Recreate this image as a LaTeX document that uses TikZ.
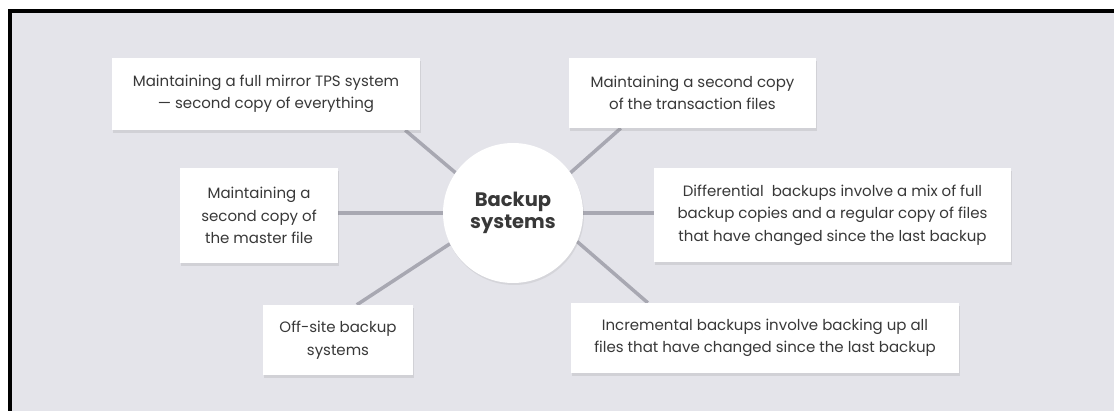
\documentclass[tikz,border=0pt]{standalone}
\usepackage{fontspec}
\setmainfont{Poppins}
\usetikzlibrary{shadows}
\pgfdeclarelayer{fondo}
\pgfdeclarelayer{lineas}
\pgfsetlayers{fondo,lineas,main}

\definecolor{papel}{HTML}{E4E4EA}
\definecolor{gris}{HTML}{A8A8B2}
\definecolor{tinta}{HTML}{383838}

\begin{document}
\begin{tikzpicture}[x=1pt, y=-1pt,
        caja/.style={fill=white, text=tinta, align=center, inner sep=0pt,
            font=\fontsize{15}{22.5}\selectfont,
            drop shadow={shadow xshift=1pt, shadow yshift=-3pt, opacity=0.18}},
        rayo/.style={draw=gris, line width=3.5pt}]
    \useasboundingbox (0,0) rectangle (1114,411);

    % Papel y marco
    \begin{pgfonlayer}{fondo}
        \fill[white] (0,0) rectangle (1114,411);
        \fill[papel] (12,13) rectangle (1114,411);
    \end{pgfonlayer}
    \draw[line width=4pt] (10,411) -- (10,11) -- (1114,11);

    % Nodo central
    \node[circle, fill=white, minimum size=140pt, inner sep=0pt, align=center,
        text=tinta, font=\bfseries\fontsize{19.5}{22}\selectfont,
        drop shadow={shadow xshift=1pt, shadow yshift=-2pt, opacity=0.15}]
        (hub) at (513,213) {Backup\\systems};

    % Cajas
    \node[caja, minimum width=308pt, minimum height=72pt] (mirror) at (266,94)
        {Maintaining a full mirror TPS system\\— second copy of everything};
    \node[caja, minimum width=247pt, minimum height=70pt] (trans) at (692.5,93)
        {Maintaining a second copy\\of the transaction files};
    \node[caja, minimum width=158pt, minimum height=95pt] (master) at (259,215.5)
        {Maintaining a\\second copy of\\the master file};
    \node[caja, minimum width=357pt, minimum height=94pt] (diff) at (832.5,215)
        {Differential\ \ backups involve a mix of full\\backup copies and a regular copy of files\\that have changed since the last backup};
    \node[caja, minimum width=150pt, minimum height=70pt] (offsite) at (338,340)
        {Off-site backup\\systems};
    \node[caja, minimum width=388pt, minimum height=70pt] (incr) at (765,338)
        {Incremental backups involve backing up all\\files that have changed since the last backup};

    % Conectores
    \begin{pgfonlayer}{lineas}
        \draw[rayo] (hub.145) -- ([xshift=-15pt]mirror.south east);
        \draw[rayo] (hub.35) -- ([xshift=52pt]trans.south west);
        \draw[rayo] (hub.west) -- (hub.west -| master.east);
        \draw[rayo] (hub.east) -- (hub.east -| diff.west);
        \draw[rayo] (hub.206) -- ([xshift=94pt]offsite.north west);
        \draw[rayo] (hub.-24) -- ([xshift=77pt]incr.north west);
    \end{pgfonlayer}
\end{tikzpicture}
\end{document}
